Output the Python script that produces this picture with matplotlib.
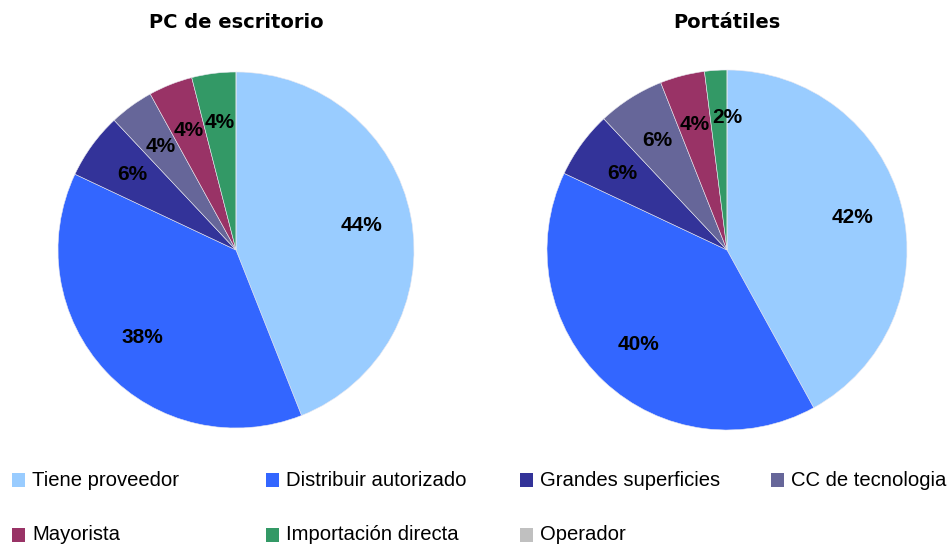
import matplotlib
matplotlib.use("Agg")
import matplotlib.pyplot as plt
from matplotlib.patches import Rectangle

# categories and shares (%)
categories = ["Tiene proveedor", "Distribuir autorizado", "Grandes superficies",
              "CC de tecnologia", "Mayorista", "Importación directa", "Operador"]
colors = ["#99CCFF", "#3366FF", "#333399", "#666699", "#993366", "#339966", "#C0C0C0"]

desktop_share = [44, 38, 6, 4, 4, 4, 0]
laptop_share = [42, 40, 6, 6, 4, 2, 0]

titles = ["PC de escritorio", "Portátiles"]

W, H = 951, 545
fig = plt.figure(figsize=(W / 100, H / 100), dpi=100)
fig.patch.set_facecolor("white")


def pct_label(p):
    return f"{p:.0f}%" if p > 0.5 else ""


# pie centres and radii in pixels
pies = [(desktop_share, 236, 250, 178, titles[0]),
        (laptop_share, 727, 250, 180, titles[1])]

for values, cx, cy, r, title in pies:
    ax = fig.add_axes([(cx - r) / W, (H - cy - r) / H, 2 * r / W, 2 * r / H])
    wedges, texts, autotexts = ax.pie(
        values, colors=colors, startangle=90, counterclock=False,
        autopct=pct_label, pctdistance=0.72,
        wedgeprops=dict(edgecolor="#e8e8f0", linewidth=0.4),
        textprops=dict(fontsize=15, fontweight="bold", family="Liberation Sans", color="black"))
    # thin slice: nudge its label right, as in the original
    for t, v in zip(autotexts, values):
        if 0 < v <= 2:
            px, py = t.get_position()
            t.set_position((px + 0.045, py + 0.02))
    ax.set_xlim(-1, 1)
    ax.set_ylim(-1, 1)
    ax.set_aspect("equal")
    ax.axis("off")
    fig.text(cx / W, 1 - 22 / H, title, ha="center", va="center",
             fontsize=14, fontweight="bold", family="DejaVu Sans")

# legend, 4 columns x 2 rows
col_x = [12, 266, 520, 771]
row_y = [480, 535]
for i, (name, col) in enumerate(zip(categories, colors)):
    x = col_x[i % 4]
    y = row_y[i // 4]
    fig.add_artist(Rectangle((x / W, (H - y - 7) / H), 13 / W, 14 / H,
                             transform=fig.transFigure, facecolor=col,
                             edgecolor="none"))
    fig.text((x + 20) / W, (H - y) / H, name, ha="left", va="center",
             fontsize=14.6, family="Liberation Sans", color="black")

fig.savefig("out.png", dpi=100)
